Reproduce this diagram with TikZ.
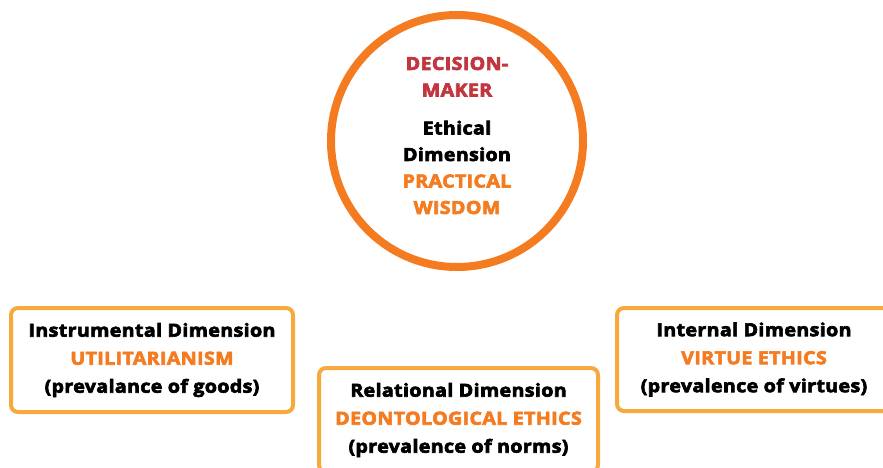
\documentclass[tikz,border=0pt]{standalone}
\usepackage{xcolor}
\usepackage{fontspec}
\setmainfont{Open Sans}[BoldFeatures={FakeBold=3.6,FakeStretch=1.09,LetterSpace=2}]
\usepackage{tikz}
\usetikzlibrary{positioning}

\definecolor{ringorange}{HTML}{F47B20}
\definecolor{boxorange}{HTML}{F6AA3E}
\definecolor{makerred}{HTML}{C1363F}
\definecolor{textorange}{HTML}{F47B20}

\begin{document}
\begin{tikzpicture}[
    x=1pt, y=-1pt,
    ring/.style={
        circle,
        draw=ringorange,
        line width=8pt,
        fill=white,
        minimum size=252pt,
        inner sep=0pt
    },
    dimbox/.style={
        draw=boxorange,
        line width=4pt,
        fill=white,
        rounded corners=7pt,
        align=center,
        inner sep=0pt,
        font=\bfseries\fontsize{18}{28}\selectfont
    },
    ringtext/.style={
        align=center,
        inner sep=0pt,
        font=\bfseries\fontsize{18}{26.5}\selectfont
    }
]

    % Page area
    \useasboundingbox (0,0) rectangle (883,468);
    \clip (0,0) rectangle (883,468);

    % Central circle
    \node[ring] (maker) at (457,141) {};
    \node[ringtext, yshift=5.5pt] (makertext) at (maker.center) {%
        \textcolor{makerred}{DECISION-}\\
        \textcolor{makerred}{MAKER}\\[11.5pt]
        Ethical\\
        Dimension\\
        \textcolor{textorange}{PRACTICAL}\\
        \textcolor{textorange}{WISDOM}};

    % Dimension boxes
    \node[dimbox, minimum width=282pt, minimum height=104pt] (instrumental) at (152,360) {%
        Instrumental Dimension\\
        \textcolor{textorange}{UTILITARIANISM}\\
        (prevalance of goods)};

    \node[dimbox, minimum width=279pt, minimum height=104pt] (relational) at (458.5,420) {%
        Relational Dimension\\
        \textcolor{textorange}{DEONTOLOGICAL ETHICS}\\
        (prevalence of norms)};

    \node[dimbox, minimum width=274pt, minimum height=103pt] (internal) at (754,359.5) {%
        Internal Dimension\\
        \textcolor{textorange}{VIRTUE ETHICS}\\
        (prevalence of virtues)};

\end{tikzpicture}
\end{document}
